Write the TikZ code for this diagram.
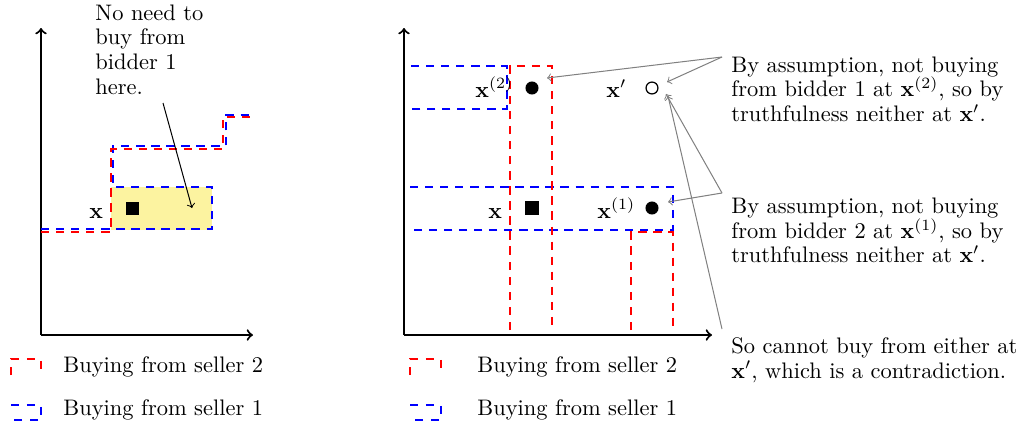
\documentclass[tikz,border=0pt]{standalone}
\begin{document}
\begin{tikzpicture}[x=0.4452pt,y=-0.4452pt,
  ax/.style={line width=0.9pt,->},
  sred/.style={red,line width=1.1pt,dash pattern=on 3.7pt off 3pt},
  sblue/.style={blue,line width=1.1pt,dash pattern=on 3.7pt off 3pt},
  legred/.style={red,line width=1.1pt,dash pattern=on 3.56pt off 3.56pt},
  legblue/.style={blue,line width=1.1pt,dash pattern=on 3.56pt off 3.56pt},
  ann/.style={gray,->,line width=0.45pt},
  lab/.style={anchor=base west,inner sep=0pt},
  txt/.style={anchor=north west,inner sep=0pt,align=left,font=\fontsize{10}{11}\selectfont},
  dot/.style={circle,fill=black,inner sep=0pt,minimum size=5.8pt},
  odot/.style={circle,draw=black,fill=white,line width=0.55pt,inner sep=0pt,minimum size=5.3pt},
  sq/.style={fill=black,inner sep=0pt,minimum size=5.8pt}]
\useasboundingbox (0,0) rectangle (1024,431);
\definecolor{hl}{RGB}{252,243,160}
% ---------- left panel ----------
\fill[hl] (111,187) rectangle (212,230);
\draw[ax] (41,335) -- (41,28);
\draw[ax] (41,335) -- (253,335);
\draw[sblue] (41,229) -- (212,229) -- (212,187) -- (113,187) -- (113,146) -- (226,146) -- (226,115) -- (253,115);
\draw[sred] (41,232) -- (111,232) -- (111,149) -- (223,149) -- (223,117) -- (253,117);
\node[sq] (xl) at (132.5,208.5) {};
\node[lab] (xll) at (89,218) {$\mathbf{x}$};
\node[txt] (need) at (95,4) {No need to\\buy from\\bidder 1\\here.};
\coordinate (na) at (163,103);
\coordinate (nb) at (192,208);
\draw[->,line width=0.45pt] (na) -- (nb);
% legend left
\draw[legred] (11,375) -- (11,359) -- (41,359) -- (41,375);
\node[lab] (lr1) at (63,372) {Buying from seller 2};
\draw[legblue] (11,405) -- (41,405) -- (41,420) -- (11,420);
\node[lab] (lb1) at (63,415) {Buying from seller 1};
% ---------- right panel ----------
\draw[ax] (404,335) -- (404,28);
\draw[ax] (404,335) -- (712,335);
\draw[sblue] (411,66) -- (507,66) -- (507,109) -- (411,109);
\draw[sblue] (410,187) -- (673,187) -- (673,230) -- (410,230);
\draw[sred] (510,330) -- (510,66) -- (552,66) -- (552,330);
\draw[sred] (631,330) -- (631,232) -- (673,232) -- (673,330);
\node[dot] (p2) at (532,88) {};
\node[odot] (pp) at (652,88) {};
\node[sq] (px) at (532,208) {};
\node[dot] (p1) at (652,208) {};
\node[lab] (l2) at (475,97) {$\mathbf{x}^{(2)}$};
\node[lab] (lp) at (606,97) {$\mathbf{x}'$};
\node[lab] (lx) at (488,218) {$\mathbf{x}$};
\node[lab] (l1) at (597,218) {$\mathbf{x}^{(1)}$};
% annotations
\node[txt] (t1) at (731,56) {By assumption, not buying\\from bidder 1 at $\mathbf{x}^{(2)}$, so by\\truthfulness neither at $\mathbf{x}'$.};
\node[txt] (t2) at (731,197.4) {By assumption, not buying\\from bidder 2 at $\mathbf{x}^{(1)}$, so by\\truthfulness neither at $\mathbf{x}'$.};
\node[txt] (t3) at (731,337) {So cannot buy from either at\\$\mathbf{x}'$, which is a contradiction.};
\coordinate (a1) at (722,57);
\coordinate (a2) at (722,193);
\coordinate (a3) at (722,329);
\coordinate (tip2) at (547,78);
\coordinate (tipa) at (667,82);
\coordinate (tipb) at (666,94);
\coordinate (tipc) at (668,96);
\coordinate (tip1) at (668,202);
\draw[ann] (a1) -- (tip2);
\draw[ann] (a1) -- (tipa);
\draw[ann] (a2) -- (tip1);
\draw[ann] (a2) -- (tipb);
\draw[ann] (a3) -- (tipc);
% legend right
\draw[legred] (410,375) -- (410,359) -- (441,359) -- (441,375);
\node[lab] (lr2) at (477,372) {Buying from seller 2};
\draw[legblue] (410,405) -- (441,405) -- (441,420) -- (410,420);
\node[lab] (lb2) at (477,415) {Buying from seller 1};
\end{tikzpicture}
\end{document}
